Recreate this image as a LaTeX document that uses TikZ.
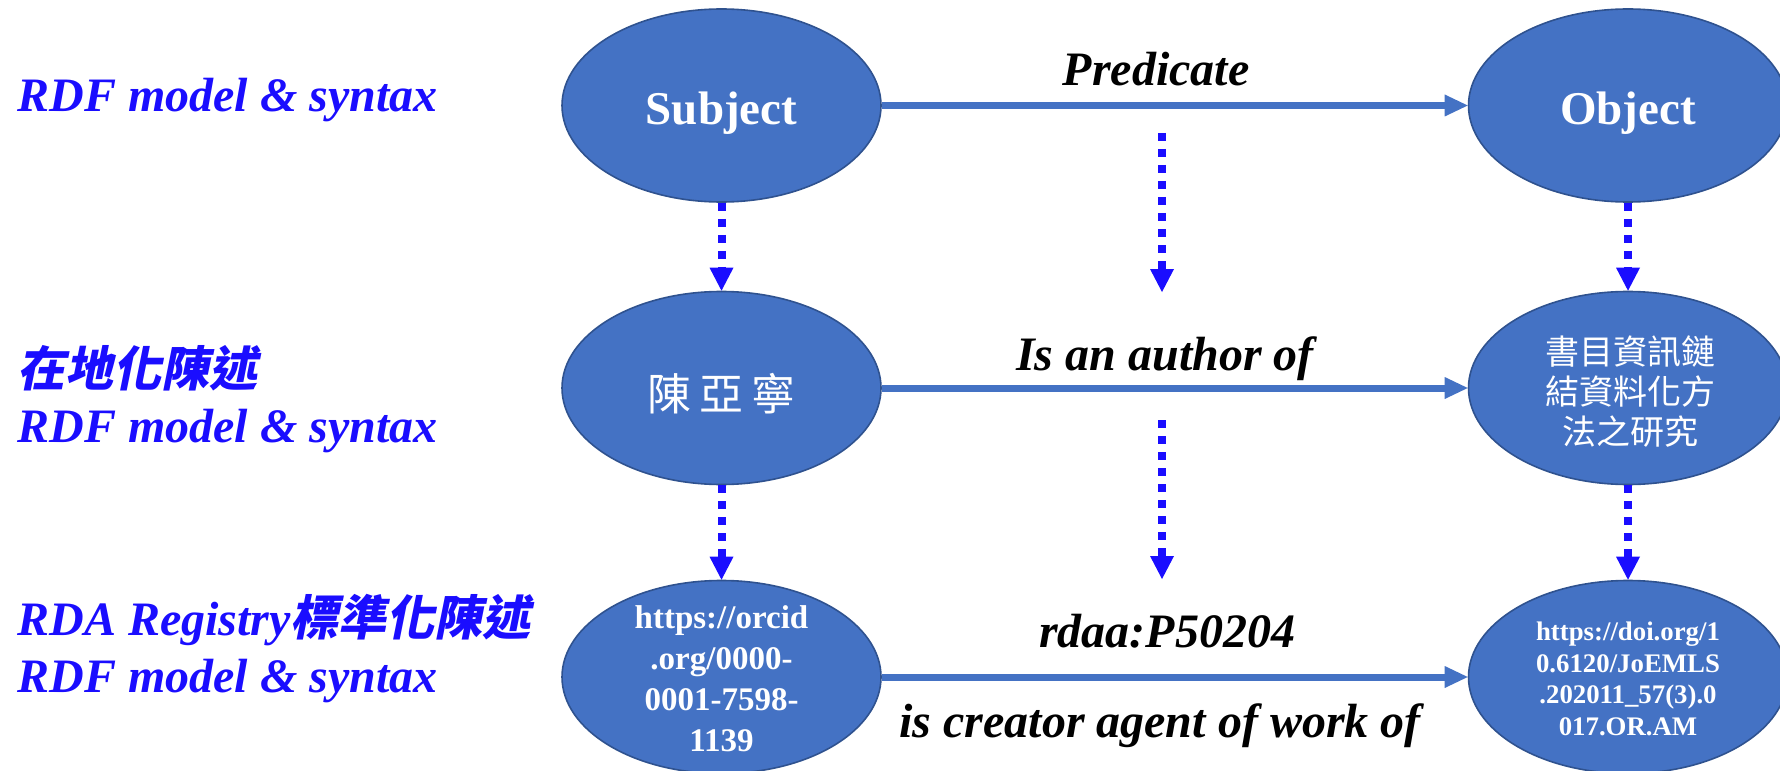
\documentclass[tikz,border=0pt]{standalone}
\usepackage{fontspec}
\setmainfont{Liberation Serif}
\newfontfamily\cjk{Noto Sans CJK TC}
\newfontfamily\cjkit[FakeSlant=0.2]{Noto Sans CJK TC}
\usetikzlibrary{shapes.geometric,arrows.meta}
\definecolor{nodefill}{HTML}{4472C4}
\definecolor{nodeedge}{HTML}{2F528F}
\definecolor{dotblue}{HTML}{1A0DFF}
\tikzset{
  ell/.style={ellipse, draw=nodeedge, line width=0.8pt, fill=nodefill,
    minimum width=159.5pt, minimum height=96.5pt, inner sep=0pt},
  ntext/.style={text=white, font=\bfseries\fontsize{23.5}{28}\selectfont, inner sep=0pt},
  solidarrow/.style={draw=nodefill, line width=3.5pt,
    -{Triangle[length=11.5pt,width=11pt,line width=0pt]}},
  dotarrow/.style={draw=dotblue, line width=4pt, dash pattern=on 4pt off 4pt,
    -{Triangle[length=11.5pt,width=12pt,line width=0pt]}},
  leftlbl/.style={text=dotblue, font=\bfseries\itshape\fontsize{24}{28}\selectfont,
    anchor=base west, inner sep=0pt},
  midlbl/.style={text=black, font=\bfseries\itshape\fontsize{24}{28}\selectfont,
    anchor=base, inner sep=0pt},
}
\begin{document}
\begin{tikzpicture}[x=0.5pt,y=-0.5pt]
\useasboundingbox (0,0) rectangle (1780,770);
\clip (0,0) rectangle (1780,770);
% ellipses
\node[ell] (subj) at (721.5,105.5) {};
\node[ell] (obj) at (1628,105.5) {};
\node[ell] (chen) at (721.5,388) {};
\node[ell] (work) at (1628,388) {};
\node[ell] (orcid) at (721.5,677) {};
\node[ell] (doi) at (1628,677) {};
% texts in ellipses
\node[ntext, anchor=base] (subjT) at (721.5,125) {Subject};
\node[ntext, anchor=base] (objT) at (1628,125) {Object};
\node[text=white, font=\cjk\fontsize{22}{26}\selectfont, inner sep=0pt] (chenT) at (721.5,394) {陳\hspace{4pt}亞\hspace{4pt}寧};
\node[text=white, font=\cjk\fontsize{17}{20}\selectfont, align=center, inner sep=0pt] (workT) at (1630,392) {書目資訊鏈\\結資料化方\\法之研究};
\node[text=white, font=\bfseries\fontsize{16.5}{20.5}\selectfont, align=center, inner sep=0pt] (orcidT) at (721.5,679) {https://orcid\\.org/0000-\\0001-7598-\\1139};
\node[text=white, font=\bfseries\fontsize{13.4}{15.85}\selectfont, align=center, inner sep=0pt] (doiT) at (1628,679) {https://doi.org/1\\0.6120/JoEMLS\\.202011\_57(3).0\\017.OR.AM};
% solid arrows
\draw[solidarrow] (subj) -- (obj);
\draw[solidarrow] (chen) -- (work);
\draw[solidarrow] (orcid) -- (doi);
% dotted arrows
\draw[dotarrow] (subj) -- (chen);
\draw[dotarrow] (chen) -- (orcid);
\draw[dotarrow] (obj) -- (work);
\draw[dotarrow] (work) -- (doi);
\coordinate (m1s) at (1162,133);
\coordinate (m1e) at (1162,292);
\coordinate (m2s) at (1162,420);
\coordinate (m2e) at (1162,579);
\draw[dotarrow] (m1s) -- (m1e);
\draw[dotarrow] (m2s) -- (m2e);
% middle labels
\node[midlbl] (pred) at (1156,86) {Predicate};
\node[midlbl] (auth) at (1165,370) {Is an author of};
\node[midlbl] (rdaa) at (1167,647) {rdaa:P50204};
\node[midlbl] (creator) at (1160,737) {is creator agent of work of};
% left labels
\node[leftlbl] (l1) at (17,112) {RDF model \& syntax};
\node[leftlbl] (l2a) at (17,386) {{\cjkit\upshape 在地化陳述}};
\node[leftlbl] (l2b) at (17,442) {RDF model \& syntax};
\node[leftlbl] (l3a) at (17,635) {RDA Registry{\cjkit\upshape 標準化陳述}};
\node[leftlbl] (l3b) at (17,692) {RDF model \& syntax};
\end{tikzpicture}
\end{document}
